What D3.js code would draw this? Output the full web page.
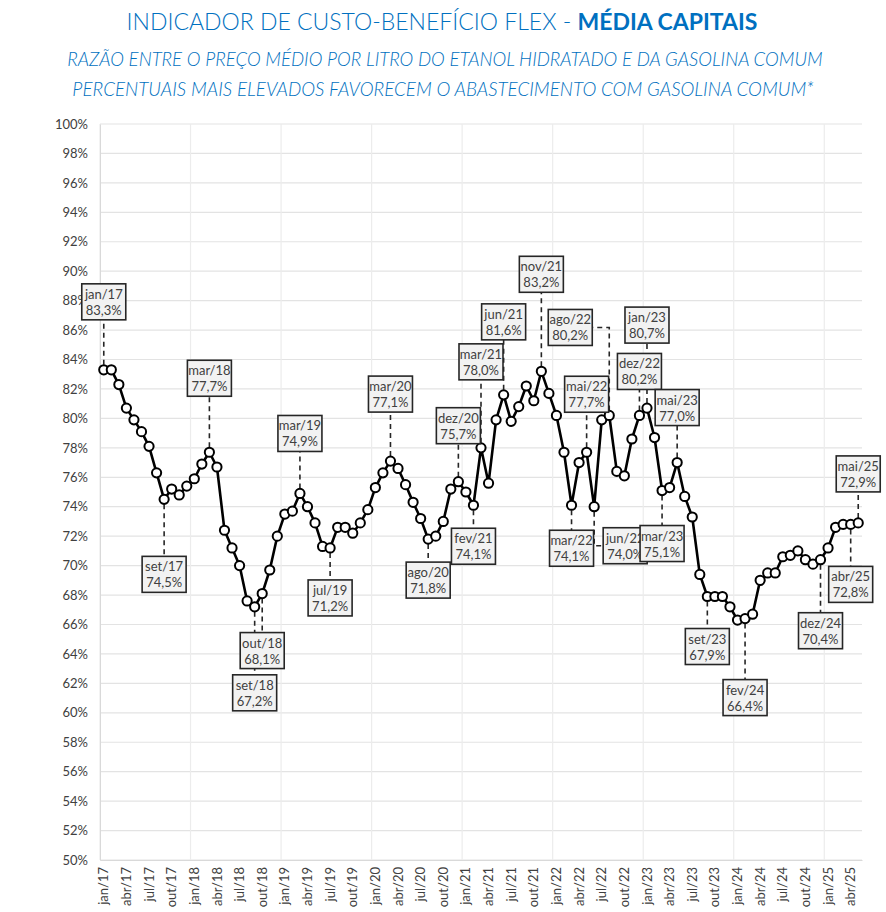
<!DOCTYPE html>
<html>
<head>
<meta charset="utf-8">
<script src="https://cdn.jsdelivr.net/npm/d3@7"></script>
<style>
  body { margin: 0; background: #fff; }
  text { font-family: Lato, "Open Sans", sans-serif; }
</style>
</head>
<body>
<div id="chart"></div>
<script>
// month names and years on the category axis
const monthNames = ["jan", "fev", "mar", "abr", "mai", "jun", "jul", "ago", "set", "out", "nov", "dez"];
const years = ["17", "18", "19", "20", "21", "22", "23", "24", "25"];

// ethanol / gasoline price ratio, in %
const ratio2017 = [83.3, 83.3, 82.3, 80.7, 79.9, 79.1, 78.1, 76.3, 74.5, 75.2, 74.8, 75.4];
const ratio2018 = [75.9, 76.9, 77.7, 76.7, 72.4, 71.2, 70.0, 67.6, 67.2, 68.1, 69.7, 72.0];
const ratio2019 = [73.5, 73.7, 74.9, 74.0, 72.9, 71.3, 71.2, 72.6, 72.6, 72.2, 72.9, 73.8];
const ratio2020 = [75.3, 76.3, 77.1, 76.6, 75.5, 74.3, 73.2, 71.8, 72.0, 73.0, 75.2, 75.7];
const ratio2021 = [75.0, 74.1, 78.0, 75.6, 79.9, 81.6, 79.8, 80.8, 82.2, 81.2, 83.2, 81.7];
const ratio2022 = [80.2, 77.7, 74.1, 77.0, 77.7, 74.0, 79.9, 80.2, 76.4, 76.1, 78.6, 80.2];
const ratio2023 = [80.7, 78.7, 75.1, 75.3, 77.0, 74.7, 73.3, 69.4, 67.9, 67.9, 67.9, 67.2];
const ratio2024 = [66.3, 66.4, 66.7, 69.0, 69.5, 69.5, 70.6, 70.7, 71.0, 70.4, 70.1, 70.4];
const ratio2025 = [71.2, 72.6, 72.8, 72.8, 72.9];

// y axis ticks
const yTicks = d3.range(50, 101, 2);

// months that get a data label
const labeledMonths = ["jan/17", "set/17", "mar/18", "set/18", "out/18", "mar/19", "jul/19",
  "mar/20", "ago/20", "dez/20", "fev/21", "mar/21", "jun/21", "nov/21", "mar/22", "mai/22",
  "jun/22", "ago/22", "dez/22", "jan/23", "mar/23", "mai/23", "set/23", "fev/24", "dez/24",
  "abr/25", "mai/25"];

// label box placement relative to its point (layout only)
const labelPlacement = {
  "jan/17": [0, -68], "set/17": [0, 75], "mar/18": [0, -74], "set/18": [0, 86],
  "out/18": [0, 57], "mar/19": [0, -60], "jul/19": [0, 50], "mar/20": [0, -67],
  "ago/20": [0, 41], "dez/20": [0, -56], "fev/21": [0, 41], "mar/21": [0, -86],
  "jun/21": [0, -73], "nov/21": [0, -97], "mar/22": [0, 43], "mai/22": [0, -58],
  "jun/22": [31, 39], "ago/22": [-39, -88], "dez/22": [0, -44], "jan/23": [0, -83],
  "mar/23": [0, 53], "mai/23": [0, -55], "set/23": [0, 50], "fev/24": [0, 79],
  "dez/24": [0, 71], "abr/25": [0, 60], "mai/25": [0, -49]
};

const allRatios = [ratio2017, ratio2018, ratio2019, ratio2020, ratio2021,
  ratio2022, ratio2023, ratio2024, ratio2025];

const data = [];
allRatios.forEach((vals, yi) => {
  vals.forEach((v, mi) => {
    data.push({ key: `${monthNames[mi]}/${years[yi]}`, month: mi, value: v });
  });
});

const width = 886, height = 912;
const plotLeft = 100, plotRight = 862, plotTop = 124, plotBottom = 860;

const svg = d3.select("#chart")
  .append("svg")
  .attr("width", width)
  .attr("height", height);

const x = d3.scaleBand()
  .domain(data.map(d => d.key))
  .range([plotLeft, plotRight])
  .padding(0);

const y = d3.scaleLinear()
  .domain([50, 100])
  .range([plotBottom, plotTop]);

const cx = d => x(d.key) + x.bandwidth() / 2;

// titles
const blue = "#0070c0";
const title = svg.append("text")
  .attr("x", width / 2 - 1)
  .attr("y", 30)
  .attr("text-anchor", "middle")
  .style("font-size", "23px")
  .style("fill", blue);
title.append("tspan").style("font-weight", 300).text("INDICADOR DE CUSTO-BENEFÍCIO FLEX - ");
title.append("tspan").style("font-weight", "bold").text("MÉDIA CAPITAIS");

svg.append("text")
  .attr("x", width / 2 + 2)
  .attr("y", 66)
  .attr("text-anchor", "middle")
  .style("font-size", "18.6px")
  .style("font-style", "italic")
  .style("font-weight", 300)
  .style("fill", blue)
  .text("RAZÃO ENTRE O PREÇO MÉDIO POR LITRO DO ETANOL HIDRATADO E DA GASOLINA COMUM");

svg.append("text")
  .attr("x", width / 2)
  .attr("y", 96)
  .attr("text-anchor", "middle")
  .style("font-size", "18.8px")
  .style("font-style", "italic")
  .style("font-weight", 300)
  .style("fill", blue)
  .text("PERCENTUAIS MAIS ELEVADOS FAVORECEM O ABASTECIMENTO COM GASOLINA COMUM*");

// gridlines
svg.append("g")
  .selectAll("line")
  .data(yTicks)
  .join("line")
  .attr("x1", plotLeft)
  .attr("x2", plotRight)
  .attr("y1", d => y(d))
  .attr("y2", d => y(d))
  .attr("stroke", "#e3e3e3")
  .attr("stroke-width", 1.2);

svg.append("g")
  .selectAll("line")
  .data(data.filter(d => d.month === 0))
  .join("line")
  .attr("x1", d => x(d.key))
  .attr("x2", d => x(d.key))
  .attr("y1", plotTop)
  .attr("y2", plotBottom)
  .attr("stroke", "#ececec")
  .attr("stroke-width", 1.2);

// axes
const yAxis = svg.append("g")
  .attr("transform", `translate(${plotLeft},0)`)
  .call(d3.axisLeft(y).tickValues(yTicks).tickSize(0).tickPadding(12).tickFormat(d => d + "%"));
yAxis.select(".domain").attr("stroke", "#d9d9d9");
yAxis.selectAll("text").style("font-size", "13px").style("fill", "#404040")
  .style("font-family", "Lato, 'Open Sans', sans-serif");

const xAxis = svg.append("g")
  .attr("transform", `translate(0,${plotBottom})`)
  .call(d3.axisBottom(x).tickValues(data.filter(d => d.month % 3 === 0).map(d => d.key)).tickSize(0));
xAxis.select(".domain").attr("stroke", "#d9d9d9");
xAxis.selectAll("text")
  .attr("transform", "rotate(-90)")
  .attr("text-anchor", "end")
  .attr("x", -7)
  .attr("y", 0)
  .attr("dy", "0.35em")
  .style("font-size", "13px")
  .style("fill", "#404040")
  .style("font-family", "Lato, 'Open Sans', sans-serif");

// leader lines
const boxW = 44, boxH = 36;
const labeled = data.filter(d => labeledMonths.includes(d.key));

svg.append("g")
  .selectAll("path")
  .data(labeled)
  .join("path")
  .attr("fill", "none")
  .attr("stroke", "#262626")
  .attr("stroke-width", 1.6)
  .attr("stroke-dasharray", "5,4")
  .attr("d", d => {
    const [dx, dy] = labelPlacement[d.key];
    const px = cx(d), py = y(d.value);
    const bx = px + dx, by = py + dy;
    const start = dy < 0 ? py - 5 : py + 5;
    if (dx === 0) {
      const edge = dy < 0 ? by + boxH / 2 : by - boxH / 2;
      return `M${px},${start}L${px},${edge}`;
    }
    const side = dx < 0 ? bx + boxW / 2 : bx - boxW / 2;
    return `M${px},${start}L${px},${by}L${side},${by}`;
  });

// the series line and markers
svg.append("path")
  .datum(data)
  .attr("fill", "none")
  .attr("stroke", "#000")
  .attr("stroke-width", 2.6)
  .attr("stroke-linejoin", "round")
  .attr("d", d3.line().x(cx).y(d => y(d.value)));

svg.append("g")
  .selectAll("circle")
  .data(data)
  .join("circle")
  .attr("cx", cx)
  .attr("cy", d => y(d.value))
  .attr("r", 4.6)
  .attr("fill", "#fff")
  .attr("stroke", "#000")
  .attr("stroke-width", 2);

// data label boxes
const fmt = v => v.toFixed(1).replace(".", ",") + "%";
const labelG = svg.append("g")
  .selectAll("g")
  .data(labeled)
  .join("g")
  .attr("transform", d => {
    const [dx, dy] = labelPlacement[d.key];
    return `translate(${cx(d) + dx},${y(d.value) + dy})`;
  });

labelG.append("rect")
  .attr("x", -boxW / 2)
  .attr("y", -boxH / 2)
  .attr("width", boxW)
  .attr("height", boxH)
  .attr("fill", "#f2f2f2")
  .attr("stroke", "#262626")
  .attr("stroke-width", 1.6);

labelG.append("text")
  .attr("text-anchor", "middle")
  .attr("y", -3)
  .style("font-size", "13px")
  .style("fill", "#404040")
  .text(d => d.key);

labelG.append("text")
  .attr("text-anchor", "middle")
  .attr("y", 13)
  .style("font-size", "13px")
  .style("fill", "#404040")
  .text(d => fmt(d.value));
</script>
</body>
</html>
